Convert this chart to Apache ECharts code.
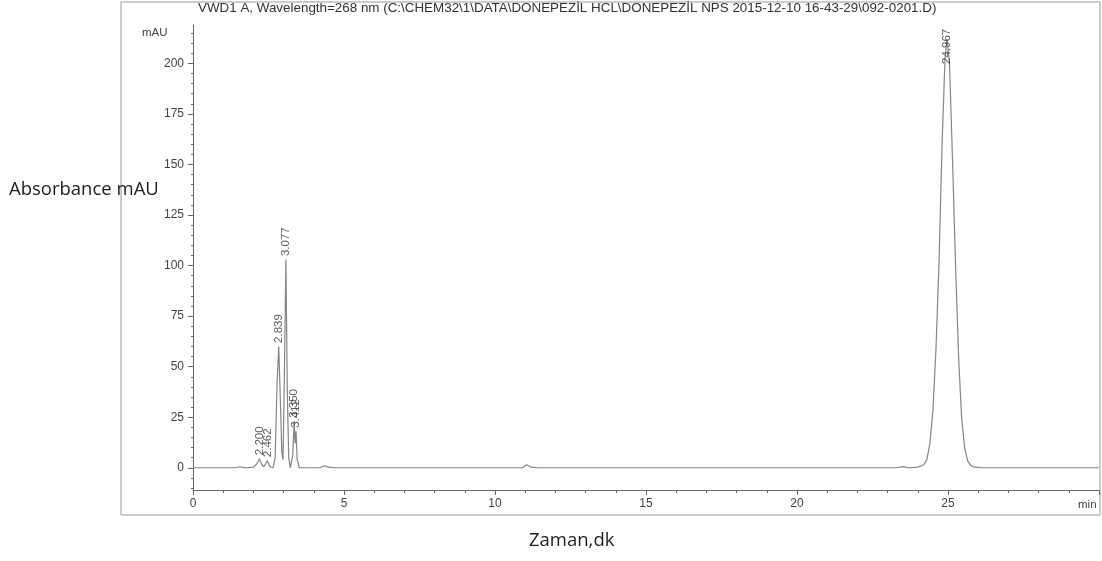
<!DOCTYPE html>
<html>
<head>
<meta charset="utf-8">
<script src="https://cdn.jsdelivr.net/npm/echarts@6/dist/echarts.min.js"></script>
<style>html,body{margin:0;padding:0;background:#fff}#c{width:1102px;height:561px}</style>
</head>
<body>
<div id="c"></div>
<script>
// Chromatogram trace (time in min, absorbance in mAU)
const times = [0,1.4,1.55,1.65,1.8,2.0,2.12,2.2,2.28,2.35,2.462,2.55,2.65,2.72,2.78,2.839,2.89,2.94,2.98,3.02,3.077,3.12,3.17,3.22,3.30,3.350,3.38,3.412,3.45,3.52,4.2,4.35,4.5,4.7,10.9,11.05,11.2,11.4,23.3,23.5,23.7,24.0,24.2,24.3,24.4,24.5,24.6,24.7,24.8,24.9,24.967,25.05,25.15,25.25,25.35,25.45,25.55,25.65,25.75,25.85,26.0,26.1,30];
const absorb = [0,0,0.5,0.2,0,0.3,2,4.5,1.5,0.5,3.5,0.5,0,5,40,60,35,8,4,40,103,40,5,0,6,23,12,18,4,0,0,1,0.3,0,0,1.5,0.3,0,0,0.6,0,0.3,1.5,4,12,28,58,100,158,202,212,200,152,100,55,25,10,3.5,1.2,0.4,0.2,0,0];
// Peak retention-time labels (anchor height of each label in mAU)
const peakTimes = [2.200,2.462,2.839,3.077,3.350,3.412,24.967];
const labelAnchor = [4.5,3.5,60,103,23,18,198];
const peakTexts = ['2.200','2.462','2.839','3.077','3.350','3.412','24.967'];
// Axis ticks
const yLabelValues = [0,25,50,75,100,125,150,175,200];
const yMinorValues = [-10,-5,0,5,10,15,20,30,35,40,45,55,60,65,70,80,85,90,95,105,110,115,120,130,135,140,145,155,160,165,170,180,185,190,195,205,210,215];
const xTickLabels = ['0','5','10','15','20','25'];
const titleText = 'VWD1 A, Wavelength=268 nm (C:\\CHEM32\\1\\DATA\\DONEPEZİL HCL\\DONEPEZİL NPS 2015-12-10 16-43-29\\092-0201.D)';

const trace = times.map((t,i)=>[t, absorb[i]]);
const peaks = peakTimes.map((t,i)=>({value:[t, labelAnchor[i]], name: peakTexts[i]}));

const chart = echarts.init(document.getElementById('c'), null, {renderer:'canvas'});
const axisFont = {fontFamily:'Liberation Sans, Arial, sans-serif', fontSize:12, color:'#444'};
chart.setOption({
  animation:false,
  backgroundColor:'#fff',
  grid:{left:193, right:2, top:25, bottom:71, containLabel:false},
  xAxis:{
    type:'value', min:0, max:30, interval:5,
    axisLine:{show:true, onZero:false, lineStyle:{color:'#666', width:1}},
    axisTick:{show:true, length:5, lineStyle:{color:'#666'}},
    minorTick:{show:true, splitNumber:5, length:3, lineStyle:{color:'#666'}},
    splitLine:{show:false},
    axisLabel:Object.assign({margin:8, formatter:(v)=> xTickLabels.indexOf(String(v))>=0 ? String(v) : ''}, axisFont)
  },
  yAxis:[{
    type:'value', min:-11, max:219,
    axisLine:{show:true, onZero:false, lineStyle:{color:'#666', width:1}},
    axisTick:{show:true, length:5, customValues:yLabelValues, lineStyle:{color:'#666'}},
    splitLine:{show:false},
    axisLabel:Object.assign({margin:9, customValues:yLabelValues}, axisFont)
  },{
    type:'value', min:-11, max:219, position:'left',
    axisLine:{show:false},
    axisTick:{show:true, length:2, customValues:yMinorValues, lineStyle:{color:'#666'}},
    axisLabel:{show:false},
    splitLine:{show:false}
  }],
  series:[{
    type:'line', data:trace, showSymbol:false, symbol:'none',
    lineStyle:{color:'#858585', width:1.2}, z:2
  },{
    type:'scatter', data:peaks, symbol:'circle', symbolSize:1,
    itemStyle:{color:'rgba(0,0,0,0)'},
    label:{show:true, position:'top', distance:3, rotate:90, align:'left', verticalAlign:'middle',
      formatter:(p)=>p.name, fontFamily:'Liberation Sans, Arial, sans-serif', fontSize:11.5, color:'#333'},
    z:3
  }],
  graphic:[
    {type:'rect', shape:{x:121, y:2, width:979, height:513}, style:{fill:'none', stroke:'#9a9a9a', lineWidth:1}, silent:true},
    {type:'text', left:198, top:2, style:{text:titleText, font:'13.4px Liberation Sans, Arial, sans-serif', fill:'#333'}},
    {type:'text', left:142, top:27, style:{text:'mAU', font:'11.5px Liberation Sans, Arial, sans-serif', fill:'#444'}},
    {type:'text', left:1078, top:499, style:{text:'min', font:'11.5px Liberation Sans, Arial, sans-serif', fill:'#444'}},
    {type:'text', left:9, top:180, style:{text:'Absorbance mAU', font:'18.5px Open Sans, sans-serif', fill:'#222'}},
    {type:'text', left:529, top:531, style:{text:'Zaman,dk', font:'18.5px Open Sans, sans-serif', fill:'#222'}}
  ]
});
</script>
</body>
</html>
